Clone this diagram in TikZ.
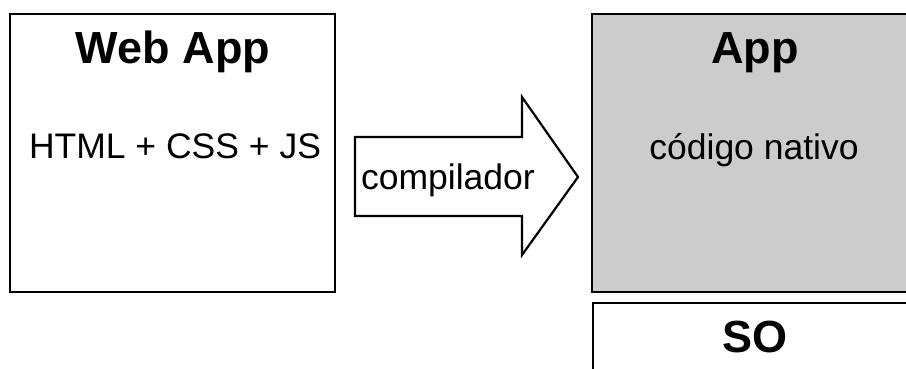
\documentclass[tikz,border=0pt]{standalone}
\usepackage{fontspec}
\setmainfont{Liberation Sans}
\begin{document}
\begin{tikzpicture}[x=1pt,y=1pt,
  box/.style={draw=black,line width=2.8pt},
  title/.style={anchor=base,inner sep=0pt,font=\fontsize{45}{45}\selectfont\bfseries},
  body/.style={anchor=base,inner sep=0pt,font=\fontsize{35.5}{35.5}\selectfont}]
\useasboundingbox (0,0) rectangle (906,-369);
\clip (0,0) rectangle (906,-369);
% boxes
\draw[box,fill=white] (10,-14) rectangle (335,-292);
\draw[box,fill=black!20] (592,-14) rectangle (917,-292);
\draw[box,fill=white] (593,-303) rectangle (917,-390);
% block arrow
\draw[box,line width=2.2pt,line join=miter,fill=white]
  (355,-137) -- (522,-137) -- (522,-97) -- (578,-177) -- (522,-255) -- (522,-216) -- (355,-216) -- cycle;
% labels
\node[title] (web) at (173,-64) {Web App};
\node[body] (html) at (175,-158) {HTML + CSS + JS};
\node[body] (comp) at (448,-189) {compilador};
\node[title] (app) at (755,-64) {App};
\node[body] (nat) at (754,-159) {código nativo};
\node[title] (so) at (755,-352) {SO};
\end{tikzpicture}
\end{document}
